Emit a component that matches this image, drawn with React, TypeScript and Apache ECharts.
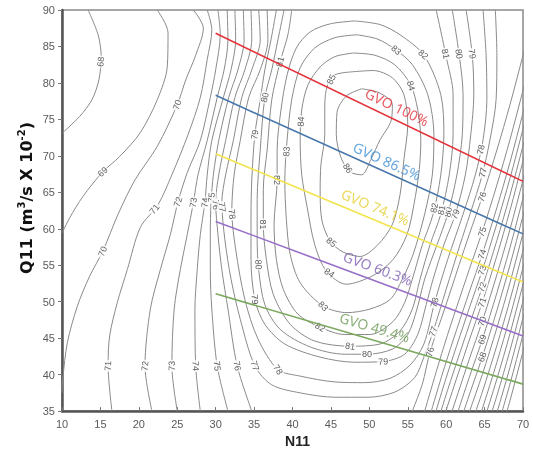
import { useEffect, useRef } from 'react';
import * as echarts from 'echarts';

// ---- axis ranges / ticks ----
const nRange = [10, 70];
const qRange = [35, 90];
const tickStep = 5;

// ---- contour lines, [N11, Q11] points ----
const c68L = [[13.4,90],[14.7,86.6],[15.1,83.6],[14.8,80.4],[13.9,77.7],[12.3,75.4],[10.0,73.1]];
const c69L = [[22.4,90],[23.8,86.9],[23.7,82.2],[22.4,77.7],[20.2,73.2],[17.5,69.9],[15.3,67.8],[12.7,64.4],[11.0,61.5],[10.0,59.4]];
const c70L = [[27.1,90],[28.4,87.5],[27.4,83.8],[26.1,80.4],[25.0,77.0],[22.4,71.3],[19.5,66.7],[17.3,62.0],[15.3,56.9],[13.6,53.5],[12.0,49.4],[10.7,44.4],[10.1,39.4],[10.0,37.5]];
const c71L = [[28.9,90],[29.5,87.3],[28.9,83.2],[28.0,78.0],[26.4,72.9],[24.3,67.4],[22.5,63.3],[20.2,60.2],[18.5,54.4],[17.2,49.9],[16.2,45.3],[16.0,41.2],[16.5,35]];
const c72L = [[30.3,90],[30.6,86.6],[30.0,81.8],[29.3,78.0],[28.0,72.1],[26.3,67.7],[25.1,63.7],[24.1,59.2],[22.8,54.4],[21.5,49.0],[20.8,41.2],[21.7,35]];
const c73L = [[31.5,90],[31.6,85.9],[31.1,81.8],[30.2,78.0],[28.9,72.1],[27.7,67.4],[27.1,63.6],[26.3,59.2],[25.4,54.4],[24.6,49.0],[24.3,41.2],[25.0,35]];
const c74L = [[32.5,90],[32.6,85.9],[32.0,81.8],[31.0,78.0],[29.5,72.1],[28.9,67.4],[28.6,63.6],[28.0,59.2],[27.6,54.4],[27.3,49.0],[27.4,41.2],[28.0,35]];
const c75L = [[33.6,90],[33.7,85.9],[32.9,81.8],[31.7,78.0],[30.4,72.1],[29.7,67.4],[29.4,63.6],[29.3,59.2],[29.3,54.4],[29.5,49.0],[30.2,41.2],[31.6,35]];
const c76L = [[34.6,90],[34.7,85.9],[33.8,81.8],[32.5,78.0],[31.3,72.1],[30.4,67.4],[30.0,63.6],[30.3,59.2],[30.8,54.4],[31.6,49.0],[32.8,41.2],[34.7,35]];
const c77 = [[35.6,90],[35.8,85.9],[34.7,81.8],[33.4,78.0],[32.3,72.1],[31.3,67.4],[30.8,63.6],[31.2,58.5],[32.0,53.1],[33.2,47.6],[35.1,41.2],[37.3,38.6],[41.0,37.5],[45.5,36.9],[49.8,36.9],[53.3,37.6],[55.9,39.6],[57.1,42.4],[58.3,45.9],[60.0,51.7],[61.8,57.8],[63.1,62.0],[64.7,67.4],[65.7,72.2],[66.5,77.7],[66.6,83.8],[66.4,90]];
const c78 = [[36.7,90],[36.8,85.9],[35.8,81.8],[34.3,78.0],[33.2,72.1],[32.4,67.4],[32.1,62.4],[32.6,57.2],[33.8,50.3],[35.5,44.9],[38.1,40.7],[41.0,39.8],[45.5,39.0],[49.4,38.9],[52.7,39.5],[55.3,41.3],[57.1,44.2],[58.5,49.9],[60.2,55.8],[62.2,62.0],[63.8,67.4],[64.8,72.2],[65.3,77.7],[65.2,83.8],[64.8,90]];
const c79 = [[37.9,90],[37.2,85.9],[36.4,81.8],[35.8,77.7],[35.1,72.9],[34.7,66.7],[34.6,62.0],[34.6,55.8],[35.1,50.3],[36.4,46.9],[39.0,44.2],[43.6,42.4],[48.1,41.7],[51.8,41.8],[54.6,42.8],[56.3,45.5],[57.4,49.6],[58.3,53.1],[59.7,57.8],[61.2,62.0],[62.5,67.4],[63.2,72.9],[63.6,78.4],[63.4,83.8],[62.6,90]];
const c80 = [[38.9,90],[38.1,85.9],[37.3,81.8],[36.4,78.0],[35.8,70.8],[35.4,64.0],[35.4,58.5],[35.6,54.4],[36.4,49.6],[38.4,46.2],[42.3,43.8],[46.8,42.8],[49.7,42.8],[53.0,43.5],[55.0,45.5],[56.2,49.0],[57.2,53.1],[58.8,57.8],[60.2,62.0],[61.4,67.4],[62.1,72.9],[62.2,78.4],[61.7,83.8],[60.8,90]];
const c81 = [[39.9,90],[39.4,86.6],[38.4,82.9],[37.3,77.7],[36.7,70.8],[36.2,65.4],[36.2,60.6],[36.6,55.8],[37.5,51.0],[39.7,46.9],[42.9,44.6],[47.5,43.9],[51.4,44.2],[54.0,46.0],[55.6,49.0],[56.6,53.1],[57.9,57.8],[59.3,62.0],[60.4,67.4],[60.9,72.9],[60.9,78.4],[60.0,83.6],[58.7,90]];
const c82 = [[48.1,88.5],[44.9,88.1],[42.3,87.0],[40.5,84.8],[39.3,81.1],[38.5,76.3],[38.0,70.8],[38.0,66.7],[37.6,60.6],[37.9,55.8],[38.8,51.7],[40.7,48.3],[43.6,46.5],[46.8,45.5],[50.1,45.5],[53.1,47.3],[54.6,49.9],[55.6,53.1],[56.9,57.8],[58.3,62.0],[59.3,67.4],[59.7,72.9],[59.3,78.4],[57.1,83.8],[54.0,86.6],[51.4,88.0],[48.1,88.5]];
const c83 = [[48.4,86.6],[45.5,86.2],[42.9,84.8],[41.0,82.1],[39.9,77.7],[39.3,72.2],[39.0,66.7],[39.2,61.3],[39.7,56.5],[41.0,52.6],[44.0,49.4],[47.1,48.5],[50.1,49.0],[52.7,50.3],[54.3,53.1],[55.7,56.5],[57.2,62.0],[58.2,67.4],[58.4,72.9],[57.6,78.4],[55.6,82.5],[53.5,84.5],[51.1,86.0],[48.4,86.6]];
const c84 = [[47.9,84.1],[45.5,83.6],[43.6,82.2],[42.0,79.7],[41.2,76.3],[41.0,72.2],[41.2,67.4],[41.9,63.0],[42.9,57.8],[44.4,54.2],[47.0,52.4],[50.5,53.6],[53.1,55.8],[54.9,59.2],[55.8,63.3],[56.5,68.1],[56.7,72.2],[56.3,76.3],[55.4,79.7],[53.3,82.5],[50.7,83.8],[47.9,84.1]];
const c85 = [[47.5,81.5],[45.3,81.0],[44.4,79.1],[44.2,76.3],[44.2,72.9],[43.7,68.8],[43.6,65.4],[43.8,61.3],[44.9,58.3],[46.6,56.8],[48.8,56.2],[51.1,57.8],[53.0,60.6],[54.0,64.7],[54.5,69.5],[55.0,74.3],[54.5,78.4],[53.0,80.7],[50.5,81.7],[47.5,81.5]];
const c86 = [[49.0,79.2],[51.4,78.6],[53.0,77.0],[52.8,74.7],[51.4,72.2],[50.2,69.5],[49.0,67.4],[47.5,67.8],[46.3,69.8],[45.7,72.9],[45.8,76.0],[47.0,78.2],[49.0,79.2]];
// right-hand (high N11) branches
const c76R = [[54.2,31],[55.6,35],[56.9,38.7],[57.9,43.1],[59.8,49.0],[61.7,55.1],[63.0,59.2],[64.7,64.4],[66.6,70.8],[68.3,77.0],[70,83.8],[71,88]];
const c75R = [[56.9,33.9],[59.8,44.2],[63.0,54.4],[64.7,59.6],[66.6,66.0],[68.3,72.2],[70,79.0],[71,83.2]];
const c74R = [[56.9,30.8],[59.8,41.1],[63.0,51.3],[64.7,56.5],[66.6,62.9],[68.3,69.1],[70,75.9],[71,80.1]];
const c73R = [[56.9,28.6],[59.8,38.9],[63.0,49.1],[64.7,54.3],[66.6,60.7],[68.3,66.9],[70,73.7],[71,77.9]];
const c72R = [[56.9,26.3],[59.8,36.6],[63.0,46.8],[64.7,52.0],[66.6,58.4],[68.3,64.6],[70,71.4],[71,75.6]];
const c71R = [[59.8,34.5],[63.0,44.7],[64.7,49.9],[66.6,56.3],[68.3,62.5],[70,69.3],[71,73.5]];
const c70R = [[59.8,31.9],[63.0,42.1],[64.7,47.3],[66.6,53.7],[68.3,59.9],[70,66.7],[71,70.9]];
const c69R = [[59.8,29.4],[63.0,39.6],[64.7,44.8],[66.6,51.2],[68.3,57.4],[70,64.2],[71,68.4]];
const c68R = [[59.8,27.0],[63.0,37.2],[64.7,42.4],[66.6,48.8],[68.3,55.0],[70,61.8],[71,66.0]];
const c67 = [[59.8,24.6],[63.0,34.8],[64.7,40.0],[66.6,46.4],[68.3,52.6],[70,59.4],[71,63.6]];
const c66 = [[63.0,32.4],[64.7,37.6],[66.6,44.0],[68.3,50.2],[70,57.0],[71,61.2]];
const c65 = [[63.0,30.1],[64.7,35.3],[66.6,41.7],[68.3,47.9],[70,54.7],[71,58.9]];
const c64 = [[63.0,27.8],[64.7,33.0],[66.6,39.4],[68.3,45.6],[70,52.4],[71,56.6]];
const c63 = [[64.7,30.7],[66.6,37.1],[68.3,43.3],[70,50.1],[71,54.3]];
const c62 = [[64.7,28.4],[66.6,34.8],[68.3,41.0],[70,47.8],[71,52.0]];
const c61 = [[66.6,32.5],[68.3,38.7],[70,45.5],[71,49.7]];
const c60 = [[66.6,30.2],[68.3,36.4],[70,43.2],[71,47.4]];

const contourSegments: [number, number[][]][] = [
  [68, c68L], [68, c68R], [69, c69L], [69, c69R], [70, c70L], [70, c70R],
  [71, c71L], [71, c71R], [72, c72L], [72, c72R], [73, c73L], [73, c73R],
  [74, c74L], [74, c74R], [75, c75L], [75, c75R], [76, c76L], [76, c76R],
  [77, c77], [78, c78], [79, c79], [80, c80], [81, c81], [82, c82],
  [83, c83], [84, c84], [85, c85], [86, c86],
  [67, c67], [66, c66], [65, c65], [64, c64], [63, c63], [62, c62], [61, c61], [60, c60],
];

// contour labels: [level, N11, Q11] (approximate, snapped onto the line)
const contourLabels: [number, number, number][] = [
  [68,15.2,82.9],[69,15.3,67.8],[70,25.0,77.0],[70,15.3,56.9],[71,21.8,62.9],[71,16.0,41.2],
  [72,25.1,63.7],[72,20.8,41.2],[73,27.1,63.6],[73,24.3,41.2],[74,28.6,63.6],[74,27.4,41.2],
  [75,29.4,64.3],[75,30.2,41.2],[76,30.0,63.3],[76,32.8,41.2],[77,30.8,63.0],[77,35.1,41.2],
  [78,32.1,62.0],[78,38.1,40.7],[79,35.1,72.9],[79,35.1,50.3],[79,51.8,41.8],[79,63.5,84.0],
  [79,61.2,62.0],[80,36.4,78.0],[80,35.5,55.1],[80,49.7,42.8],[80,61.8,84.0],[80,60.2,62.3],
  [81,38.4,82.9],[81,36.2,60.6],[81,47.5,43.9],[81,60.0,84.0],[81,59.3,62.6],[82,38.0,66.7],
  [82,43.6,46.5],[82,57.1,84.0],[82,58.3,62.9],[83,39.2,70.6],[83,44.0,49.4],[83,53.5,84.5],
  [84,41.1,74.7],[84,44.4,53.3],[84,55.7,79.7],[85,44.6,80.7],[85,45.0,58.1],[86,47.5,68.5],
  [78,64.8,70.8],[77,64.8,67.7],[76,64.7,64.4],[75,64.7,59.6],[74,64.7,56.5],[73,64.7,54.3],
  [72,64.7,52.0],[71,64.7,49.9],[70,64.7,47.3],[69,64.7,44.8],[68,64.7,42.4],
  [78,58.5,49.9],[77,58.3,45.9],[76,57.9,43.1],
];

// ---- guide vane opening lines ----
const gvoNames = ['GVO 100%', 'GVO 86.5%', 'GVO 74.1%', 'GVO 60.3%', 'GVO 49.4%'];
const gvoLines = [
  [[30, 86.8], [70, 66.5]],
  [[30, 78.3], [70, 59.3]],
  [[30, 70.3], [70, 52.7]],
  [[30, 61.0], [70, 45.3]],
  [[30, 51.1], [70, 38.7]],
];
const gvoLabelAt = [[53.6, 76.7], [52.3, 69.3], [50.8, 63.0], [51.1, 54.6], [50.7, 46.5]];
const gvoLineColors = ['#e5323a', '#4676aa', '#f3e44c', '#9870c8', '#7aa85c'];
const gvoTextColors = ['#e2353c', '#3d8fd5', '#e6cf33', '#7d5db3', '#6e9b55'];

const yTitle = '{a|Q11 (m}{s|3}{a|/s X 10}{s|-2}{a|)}';
const xTitle = 'N11';

export default function App() {
  const ref = useRef<HTMLDivElement>(null);

  useEffect(() => {
    const el = ref.current;
    if (!el) return;
    const chart = echarts.init(el, undefined, { renderer: 'svg' });

    const contourSeries = contourSegments.map(([lvl, pts]) => ({
      type: 'line',
      name: 'c' + lvl,
      data: pts,
      showSymbol: false,
      symbol: 'none',
      smooth: 0.3,
      clip: true,
      silent: true,
      z: 2,
      lineStyle: { color: '#8a8a8a', width: 1 },
    }));
    const gvoSeries = gvoLines.map((pts, i) => ({
      type: 'line',
      name: gvoNames[i],
      data: pts,
      showSymbol: false,
      symbol: 'none',
      clip: true,
      silent: true,
      z: 4,
      lineStyle: { color: gvoLineColors[i], width: 1.6 },
    }));
    const baseSeries: any[] = [...contourSeries, ...gvoSeries];

    const axisText = { color: '#5a5a5a', fontSize: 11, fontFamily: 'Liberation Sans' };
    chart.setOption({
      animation: false,
      grid: { left: 62, right: 10, top: 10, bottom: 41, show: true, borderColor: '#8a8a8a', borderWidth: 1.5 },
      xAxis: {
        type: 'value', min: nRange[0], max: nRange[1], interval: tickStep,
        name: xTitle, nameLocation: 'middle', nameGap: 11,
        nameTextStyle: { color: '#222', fontSize: 14, fontWeight: 'bold', fontFamily: 'Liberation Sans', padding: [0, 0, 0, 10] },
        axisLine: { show: true, lineStyle: { color: '#555', width: 2.5 } },
        axisTick: { show: true, inside: true, length: 4, lineStyle: { color: '#777' } },
        axisLabel: { ...axisText, margin: 7 },
        splitLine: { show: false },
      },
      yAxis: {
        type: 'value', min: qRange[0], max: qRange[1], interval: tickStep,
        axisLine: { show: true, lineStyle: { color: '#555', width: 2.5 } },
        axisTick: { show: true, inside: false, length: 4, lineStyle: { color: '#777' } },
        axisLabel: { ...axisText, margin: 7 },
        splitLine: { show: false },
      },
      graphic: [
        {
          type: 'text',
          x: 26,
          y: 198,
          rotation: Math.PI / 2,
          style: {
            text: yTitle,
            align: 'center',
            verticalAlign: 'middle',
            rich: {
              a: { fill: '#111', fontSize: 16, fontWeight: 'bold', fontFamily: 'DejaVu Sans', lineHeight: 20 },
              s: { fill: '#111', fontSize: 10, fontWeight: 'bold', fontFamily: 'DejaVu Sans', lineHeight: 12, verticalAlign: 'top' },
            },
          },
        },
      ],
      series: baseSeries,
    });

    const toPx = (p: number[]) => chart.convertToPixel({ gridIndex: 0 }, p) as number[];
    const fromPx = (p: number[]) => chart.convertFromPixel({ gridIndex: 0 }, p) as number[];
    const norm = (a: number) => {
      let r = a;
      while (r > 90) r -= 180;
      while (r < -90) r += 180;
      return r;
    };

    const labelData = contourLabels.map(([lvl, n, q]) => {
      const target = toPx([n, q]);
      let best = { d: Infinity, x: target[0], y: target[1], ang: 0 };
      contourSegments.forEach(([l, pts]) => {
        if (l !== lvl) return;
        const px = pts.map(toPx);
        for (let i = 0; i < px.length - 1; i++) {
          const [x1, y1] = px[i];
          const [x2, y2] = px[i + 1];
          const dx = x2 - x1, dy = y2 - y1;
          const len2 = dx * dx + dy * dy || 1;
          let t = ((target[0] - x1) * dx + (target[1] - y1) * dy) / len2;
          t = Math.max(0, Math.min(1, t));
          const cx = x1 + t * dx, cy = y1 + t * dy;
          const d = Math.hypot(cx - target[0], cy - target[1]);
          if (d < best.d) best = { d, x: cx, y: cy, ang: (-Math.atan2(dy, dx) * 180) / Math.PI };
        }
      });
      return {
        value: fromPx([best.x, best.y]),
        label: { formatter: String(lvl), rotate: norm(best.ang) },
      };
    });

    const gvoLabelData = gvoLines.map((pts, i) => {
      const a = toPx(pts[0]);
      const b = toPx(pts[1]);
      const ang = (-Math.atan2(b[1] - a[1], b[0] - a[0]) * 180) / Math.PI;
      return {
        value: gvoLabelAt[i],
        label: { formatter: gvoNames[i], rotate: norm(ang), color: gvoTextColors[i] },
      };
    });

    chart.setOption({
      series: [
        ...baseSeries,
        {
          type: 'scatter',
          name: 'contour labels',
          data: labelData,
          symbolSize: 1,
          itemStyle: { color: 'rgba(0,0,0,0)' },
          silent: true,
          z: 3,
          label: {
            show: true, position: 'inside', fontSize: 9, color: '#333',
            fontFamily: 'Liberation Sans', backgroundColor: '#fff', padding: [0, 1],
          },
        },
        {
          type: 'scatter',
          name: 'gvo labels',
          data: gvoLabelData,
          symbolSize: 1,
          itemStyle: { color: 'rgba(0,0,0,0)' },
          silent: true,
          z: 5,
          label: { show: true, position: 'inside', fontSize: 14, fontFamily: 'Noto Sans' },
        },
      ],
    });

    return () => chart.dispose();
  }, []);

  return <div ref={ref} style={{ position: 'fixed', left: 0, top: 0, width: 533, height: 453 }} />;
}
